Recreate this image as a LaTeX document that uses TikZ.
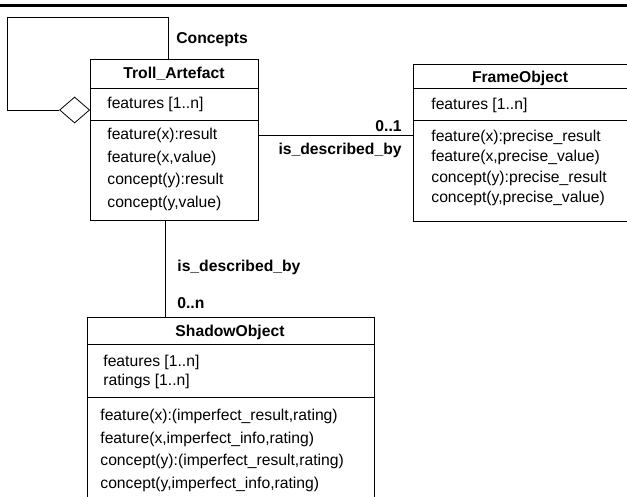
\documentclass[tikz,border=0pt]{standalone}
\usepackage{fontspec}
\setmainfont{Liberation Sans}
\usetikzlibrary{shapes.geometric}
\begin{document}
\begin{tikzpicture}[x=1pt,y=-1pt,line width=0.8pt,
  font=\fontsize{15.7}{19}\selectfont,
  box/.style={draw, anchor=north west, inner sep=0pt},
  txt/.style={anchor=base west, inner sep=0pt},
  ttl/.style={anchor=base, inner sep=0pt, font=\fontsize{15.7}{19}\selectfont\bfseries},
  lbl/.style={inner sep=0pt, font=\fontsize{15.7}{19}\selectfont\bfseries}]
\useasboundingbox (0,0) rectangle (627,496);
\clip (0,0) rectangle (627,496);
\draw[line width=3pt] (0,5) -- (627,5);
% boxes
\node[box, minimum width=168pt, minimum height=161pt] (troll) at (90,59) {};
\node[box, minimum width=240pt, minimum height=157pt] (frame) at (413,64) {};
\node[box, minimum width=287pt, minimum height=200pt] (shadow) at (87,317) {};
% separators
\draw (troll.west |- 0,88) -- (troll.east |- 0,88);
\draw (troll.west |- 0,120) -- (troll.east |- 0,120);
\draw (frame.west |- 0,88) -- (frame.east |- 0,88);
\draw (frame.west |- 0,120) -- (frame.east |- 0,120);
\draw (shadow.west |- 0,344) -- (shadow.east |- 0,344);
\draw (shadow.west |- 0,397) -- (shadow.east |- 0,397);
% Troll_Artefact texts
\node[ttl] (tt) at (174,78.5) {Troll\_Artefact};
\node[txt] (ta1) at (107,108.5) {features [1..n]};
\node[txt] (tm1) at (107,139) {feature(x):result};
\node[txt] (tm2) at (107,162) {feature(x,value)};
\node[txt] (tm3) at (107,184.5) {concept(y):result};
\node[txt] (tm4) at (107,207.5) {concept(y,value)};
% FrameObject texts
\node[ttl] (ft) at (520,82) {FrameObject};
\node[txt] (fa1) at (431,109) {features [1..n]};
\node[txt] (fm1) at (431,141.5) {feature(x):precise\_result};
\node[txt] (fm2) at (431,161.5) {feature(x,precise\_value)};
\node[txt] (fm3) at (431,182) {concept(y):precise\_result};
\node[txt] (fm4) at (431,202.5) {concept(y,precise\_value)};
% ShadowObject texts
\node[ttl] (st) at (230,336.5) {ShadowObject};
\node[txt] (sa1) at (103,366.5) {features [1..n]};
\node[txt] (sa2) at (103,385.5) {ratings [1..n]};
\node[txt] (sm1) at (100,420) {feature(x):(imperfect\_result,rating)};
\node[txt] (sm2) at (100,443) {feature(x,imperfect\_info,rating)};
\node[txt] (sm3) at (100,465) {concept(y):(imperfect\_result,rating)};
\node[txt] (sm4) at (100,488) {concept(y,imperfect\_info,rating)};
% aggregation loop
\node[draw, diamond, minimum width=30pt, minimum height=26pt, inner sep=0pt, anchor=east] (dia) at (troll.west |- 0,110) {};
\coordinate (l1) at (168,17);
\coordinate (l2) at (7,17);
\coordinate (l3) at (7,110);
\draw (troll.north -| l1) -- (l1) -- (l2) -- (l3) -- (dia.west);
\node[lbl, anchor=base west] (conc) at (176,43.5) {Concepts};
% associations
\draw (troll.east |- 0,135) -- (frame.west |- 0,135);
\node[lbl, anchor=base east] (m01) at (402,131.5) {0..1};
\node[lbl, anchor=base east] (isd1) at (402,154.5) {is\_described\_by};
\coordinate (vx) at (165,0);
\draw (troll.south -| vx) -- (shadow.north -| vx);
\node[lbl, anchor=base west] (isd2) at (177,271.5) {is\_described\_by};
\node[lbl, anchor=base west] (m0n) at (177,308.5) {0..n};
\end{tikzpicture}
\end{document}
